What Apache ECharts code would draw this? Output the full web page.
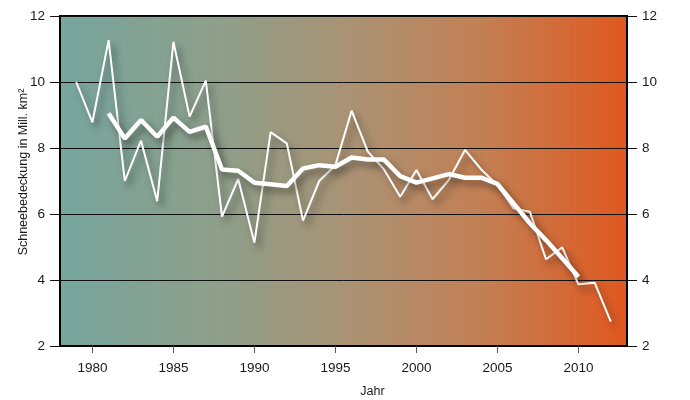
<!DOCTYPE html>
<html><head><meta charset="utf-8">
<script src="https://cdn.jsdelivr.net/npm/echarts@6/dist/echarts.min.js"></script>
<style>html,body{margin:0;padding:0;background:#fff}#c{width:690px;height:400px}</style>
</head><body><div id="c"></div>
<script>
const annualStartYear = 1979;
const annualValues = [10.0, 8.78, 11.27, 7.0, 8.22, 6.39, 11.22, 8.95, 10.04, 5.92, 7.06, 5.13, 8.48, 8.14, 5.80, 7.0, 7.48, 9.13, 7.89, 7.35, 6.52, 7.33, 6.45, 7.03, 7.94, 7.35, 6.88, 6.17, 6.07, 4.63, 4.99, 3.87, 3.92, 2.74];
const meanStartYear = 1981;
const meanValues = [9.05, 8.29, 8.85, 8.34, 8.92, 8.49, 8.65, 7.35, 7.31, 6.95, 6.9, 6.85, 7.38, 7.48, 7.43, 7.71, 7.65, 7.65, 7.15, 6.95, 7.08, 7.21, 7.10, 7.10, 6.91, 6.32, 5.72, 5.21, 4.66, 4.10];
const xTickYears = [1980, 1985, 1990, 1995, 2000, 2005, 2010];
const yTicks = [2, 4, 6, 8, 10, 12];
const yAxisTitle = 'Schneebedeckung in Mill. km²';
const xAxisTitle = 'Jahr';

const annualData = annualValues.map((v, i) => [annualStartYear + i, v]);
const meanData = meanValues.map((v, i) => [meanStartYear + i, v]);

const font = 'Liberation Sans, Arial, sans-serif';
const chart = echarts.init(document.getElementById('c'));
const yBase = {
  type: 'value', min: yTicks[0], max: yTicks[yTicks.length - 1], interval: 2,
  axisLine: { show: true, lineStyle: { color: '#000', width: 2 } },
  axisTick: { show: true, length: 10, lineStyle: { color: '#111', width: 1 } },
  axisLabel: { color: '#1a1a1a', fontSize: 13.5, fontFamily: font, margin: 15 }
};
chart.setOption({
  animation: false,
  grid: {
    left: 60, right: 63, top: 16, bottom: 54, show: true,
    containLabel: false, outerBoundsMode: 'none',
    borderColor: '#000', borderWidth: 2,
    backgroundColor: { type: 'linear', x: 0, y: 0, x2: 1, y2: 0, colorStops: [
      { offset: 0, color: '#76a69e' },
      { offset: 0.28, color: '#8e9f8a' },
      { offset: 0.5, color: '#a99375' },
      { offset: 0.75, color: '#c47f53' },
      { offset: 1, color: '#e1571f' }
    ] }
  },
  xAxis: {
    type: 'value', min: 1978, max: 2013,
    name: xAxisTitle, nameLocation: 'middle', nameGap: 39, nameMoveOverlap: false,
    nameTextStyle: { color: '#1a1a1a', fontSize: 12.5, fontFamily: font, padding: [0, 0, 0, 58] },
    axisLine: { show: true, onZero: false, lineStyle: { color: '#000', width: 2 } },
    axisTick: { show: true, length: 7, customValues: xTickYears, lineStyle: { color: '#555' } },
    axisLabel: { customValues: xTickYears, formatter: v => String(v), color: '#1a1a1a', fontSize: 13.5, fontFamily: font, margin: 15 },
    splitLine: { show: false }
  },
  yAxis: [
    Object.assign({}, yBase, {
      position: 'left', name: yAxisTitle, nameLocation: 'middle', nameGap: 30, nameRotate: 90, nameMoveOverlap: false,
      nameTextStyle: { color: '#1a1a1a', fontSize: 12.5, fontFamily: font, padding: [0, 0, 0, 18] },
      splitLine: { show: true, lineStyle: { color: '#111', width: 1 } }
    }),
    Object.assign({}, yBase, {
      position: 'right', splitLine: { show: false }
    })
  ],
  series: [
    {
      type: 'line', data: annualData, showSymbol: false, symbol: 'none', z: 3,
      lineStyle: { color: '#fff', width: 2, shadowColor: 'rgba(30,30,30,0.5)', shadowBlur: 7, shadowOffsetX: 4, shadowOffsetY: 5 }
    },
    {
      type: 'line', data: meanData, showSymbol: false, symbol: 'none', z: 4,
      lineStyle: { color: '#fff', width: 4.5, shadowColor: 'rgba(30,30,30,0.5)', shadowBlur: 7, shadowOffsetX: 4, shadowOffsetY: 5 }
    }
  ]
});
</script></body></html>
